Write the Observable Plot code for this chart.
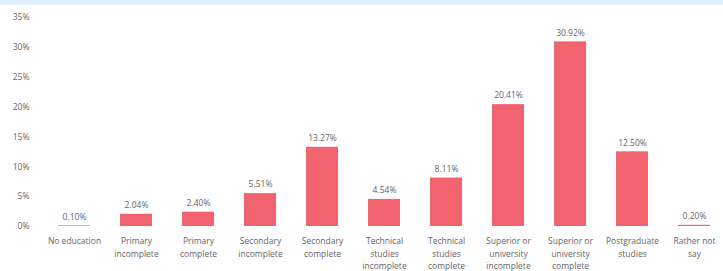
<!DOCTYPE html>
<html>
<head>
<meta charset="utf-8">
<script src="https://cdn.jsdelivr.net/npm/d3@7"></script>
<script src="https://cdn.jsdelivr.net/npm/@observablehq/plot@0.6"></script>
<style>
  html, body { margin: 0; padding: 0; background: #fff; }
  #band { height: 5px; background: #dff2fb; width: 723px; }
</style>
</head>
<body>
<div id="band"></div>
<div id="chart"></div>
<script>
const categories = [
  "No education",
  "Primary\nincomplete",
  "Primary\ncomplete",
  "Secondary\nincomplete",
  "Secondary\ncomplete",
  "Technical\nstudies\nincomplete",
  "Technical\nstudies\ncomplete",
  "Superior or\nuniversity\nincomplete",
  "Superior or\nuniversity\ncomplete",
  "Postgraduate\nstudies",
  "Rather not\nsay"
];
const values = [0.10, 2.04, 2.40, 5.51, 13.27, 4.54, 8.11, 20.41, 30.92, 12.50, 0.20];
const yTicks = [0, 5, 10, 15, 20, 25, 30, 35];

const data = categories.map((c, i) => ({category: c, value: values[i]}));

const chart = Plot.plot({
  width: 723,
  height: 266,
  marginTop: 12,
  marginBottom: 45,
  marginLeft: 44,
  marginRight: 0,
  style: {fontFamily: "'Open Sans', 'Liberation Sans', sans-serif", fontSize: "8.5px", color: "#595959", background: "#fff"},
  x: {domain: categories, paddingInner: 0.49, paddingOuter: 0.18, label: null},
  y: {domain: [0, 35], label: null},
  marks: [
    Plot.gridY(yTicks, {stroke: "#d9d9d9", strokeOpacity: 1, x1: 40, x2: 723}),
    Plot.barY(data, {x: "category", y: "value", fill: "#f0636f"}),
    Plot.text(data, {x: "category", y: "value", text: d => d.value.toFixed(2) + "%", dy: -9, fill: "#666", fontSize: 8.5}),
    Plot.axisY(yTicks, {tickSize: 0, tickPadding: 15, tickFormat: d => d + "%", fill: "#666", fontSize: 8.5}),
    Plot.axisX({tickSize: 0, tickPadding: 9, fill: "#666", fontSize: 8.5, lineHeight: 1.45})
  ]
});
document.getElementById("chart").appendChild(chart);
</script>
</body>
</html>
